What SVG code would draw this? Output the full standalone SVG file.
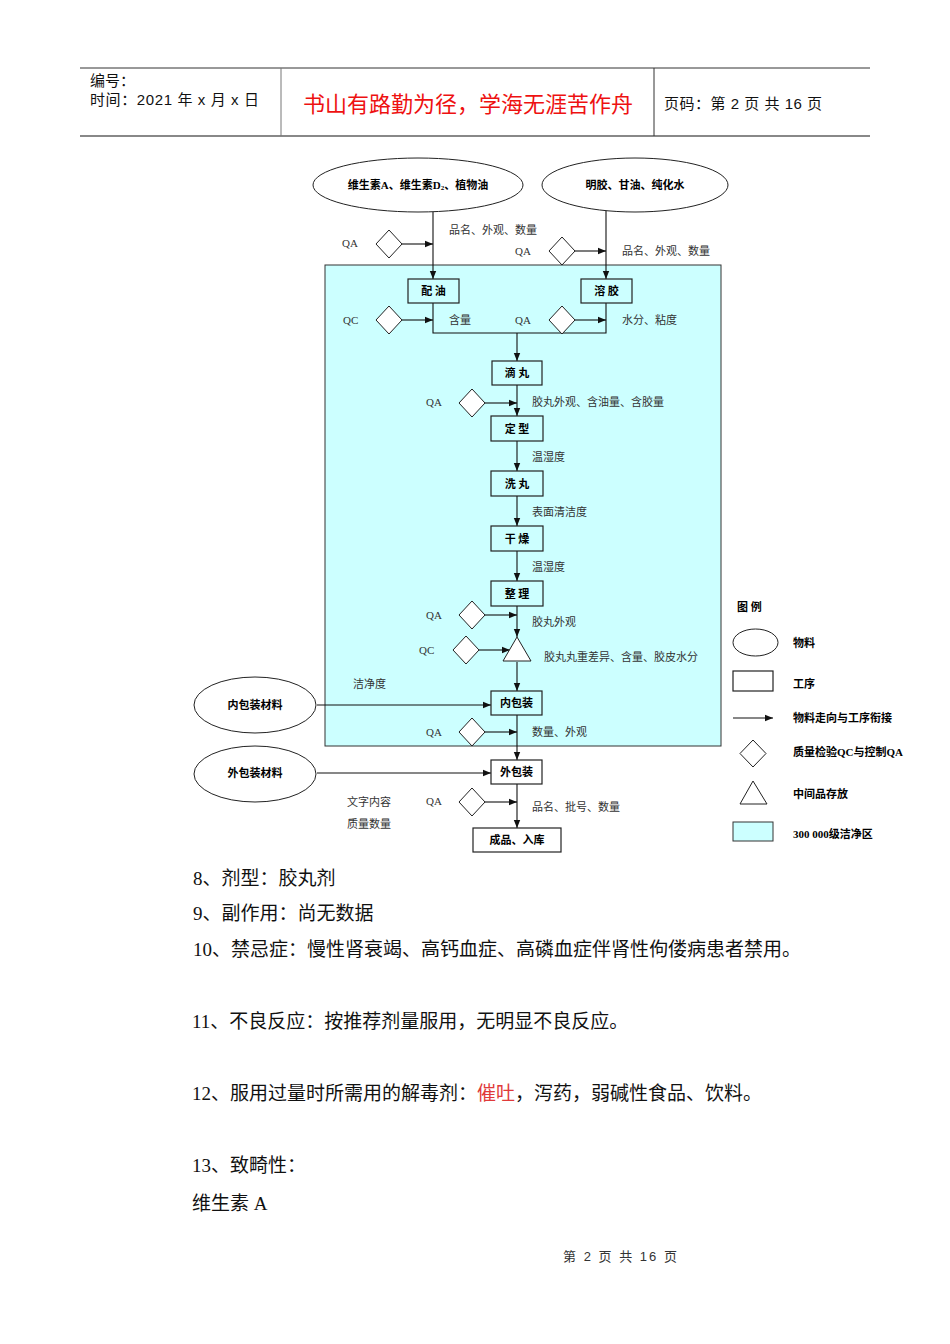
<svg xmlns="http://www.w3.org/2000/svg" width="950" height="1344" viewBox="0 0 950 1344">
<style>
.hd{font-family:"Liberation Sans","Noto Sans CJK SC",sans-serif;font-size:15px;fill:#111}
.ttl{font-family:"Liberation Sans","Noto Sans CJK SC",sans-serif;font-size:22px;fill:#ee1111}
.nl{font-family:"Liberation Serif","Noto Sans CJK SC",serif;font-size:11px;font-weight:bold;fill:#000;text-anchor:middle;dominant-baseline:central}
.an{font-family:"Liberation Serif","Noto Sans CJK SC",serif;font-size:11px;fill:#333;dominant-baseline:central}
.lg{font-family:"Liberation Serif","Noto Sans CJK SC",serif;font-size:11px;font-weight:bold;fill:#000;dominant-baseline:central}
.bd{font-family:"Liberation Serif","Noto Sans CJK SC",serif;font-size:19px;fill:#111;dominant-baseline:central}
.ft{font-family:"Liberation Sans","Noto Sans CJK SC",sans-serif;font-size:13px;fill:#333;dominant-baseline:central}
.box{fill:none;stroke:#222;stroke-width:1.2}
.wbox{fill:#fff;stroke:#222;stroke-width:1.2}
.el{fill:#fff;stroke:#222;stroke-width:1}
.dm{fill:#fff;stroke:#222;stroke-width:1}
.cn{fill:none;stroke:#111;stroke-width:1.1}
.ar{fill:none;stroke:#111;stroke-width:1.1;marker-end:url(#ah)}
</style>
<defs>
<marker id="ah" viewBox="0 0 10 10" refX="10" refY="5" markerWidth="8" markerHeight="8" markerUnits="userSpaceOnUse" orient="auto">
<path d="M0,1 L10,5 L0,9 z" fill="#111"/>
</marker>
</defs>

<g id="header">
<line x1="80" y1="68" x2="870" y2="68" stroke="#333" stroke-width="1"/>
<line x1="80" y1="136" x2="870" y2="136" stroke="#888" stroke-width="2"/>
<line x1="281" y1="68" x2="281" y2="136" stroke="#777" stroke-width="1"/>
<line x1="654" y1="68" x2="654" y2="136" stroke="#333" stroke-width="1"/>
<text class="hd" x="90" y="86">编号：</text>
<text class="hd" x="90" y="105" textLength="169">时间：2021 年 x 月 x 日</text>
<text class="ttl" x="468" y="112" text-anchor="middle">书山有路勤为径，学海无涯苦作舟</text>
<text class="hd" x="664" y="109" textLength="158">页码：第 2 页  共 16 页</text>
</g>

<g id="clean-zone">
<rect x="325" y="265" width="396" height="481" fill="#ccffff" stroke="#333" stroke-width="1"/>
</g>

<g id="connectors">
<line class="ar" x1="433" y1="212" x2="433" y2="279"/>
<line class="ar" x1="606" y1="211" x2="606" y2="279"/>
<line class="ar" x1="402" y1="244" x2="433" y2="244"/>
<line class="ar" x1="575" y1="251" x2="606" y2="251"/>
<polyline class="cn" points="433,303 433,333 606,333 606,303"/>
<line class="ar" x1="402" y1="320" x2="433" y2="320"/>
<line class="ar" x1="575" y1="320" x2="606" y2="320"/>
<line class="ar" x1="517" y1="333" x2="517" y2="361"/>
<line class="ar" x1="517" y1="385" x2="517" y2="416"/>
<line class="ar" x1="485" y1="403" x2="517" y2="403"/>
<line class="ar" x1="517" y1="441" x2="517" y2="471"/>
<line class="ar" x1="517" y1="496" x2="517" y2="526"/>
<line class="ar" x1="517" y1="551" x2="517" y2="581"/>
<line class="ar" x1="517" y1="606" x2="517" y2="637"/>
<line class="ar" x1="485" y1="615" x2="517" y2="615"/>
<line class="ar" x1="479" y1="650" x2="510" y2="650"/>
<line class="ar" x1="517" y1="662" x2="517" y2="691"/>
<line class="ar" x1="317" y1="705" x2="491" y2="705"/>
<line class="ar" x1="517" y1="715" x2="517" y2="760"/>
<line class="ar" x1="485" y1="732" x2="517" y2="732"/>
<line class="ar" x1="317" y1="773" x2="491" y2="773"/>
<line class="ar" x1="517" y1="784" x2="517" y2="828"/>
<line class="ar" x1="485" y1="802" x2="517" y2="802"/>
</g>

<g id="mat1"><ellipse class="el" cx="418" cy="185" rx="105" ry="27"/>
<text class="nl" x="418" y="185">维生素A、维生素D<tspan font-size="7" dy="3">2</tspan><tspan dy="-3">、植物油</tspan></text></g>
<g id="mat2"><ellipse class="el" cx="635" cy="185" rx="93" ry="27"/>
<text class="nl" x="635" y="185">明胶、甘油、纯化水</text></g>

<g id="qa1"><path class="dm" d="M389,230 L402,244 L389,258 L376,244 z"/>
<text class="an" x="342" y="243">QA</text>
<text class="an" x="449" y="230">品名、外观、数量</text></g>
<g id="qa2"><path class="dm" d="M562,237 L575,251 L562,265 L549,251 z"/>
<text class="an" x="515" y="251">QA</text>
<text class="an" x="622" y="251">品名、外观、数量</text></g>

<g id="p-peiyou"><rect class="box" x="408" y="279" width="51" height="24"/><text class="nl" x="433.5" y="291">配 油</text></g>
<g id="p-rongjiao"><rect class="box" x="581" y="279" width="51" height="24"/><text class="nl" x="606.5" y="291">溶 胶</text></g>

<g id="qc1"><path class="dm" d="M389,306 L402,320 L389,334 L376,320 z"/>
<text class="an" x="343" y="320">QC</text>
<text class="an" x="449" y="320">含量</text></g>
<g id="qa3"><path class="dm" d="M562,306 L575,320 L562,334 L549,320 z"/>
<text class="an" x="515" y="320">QA</text>
<text class="an" x="622" y="320">水分、粘度</text></g>

<g id="p-diwan"><rect class="box" x="492" y="361" width="50" height="24"/><text class="nl" x="517" y="373">滴 丸</text></g>
<g id="qa4"><path class="dm" d="M472,389 L485,403 L472,417 L459,403 z"/>
<text class="an" x="426" y="402">QA</text>
<text class="an" x="532" y="402">胶丸外观、含油量、含胶量</text></g>

<g id="p-dingxing"><rect class="box" x="491" y="416" width="52" height="25"/><text class="nl" x="517" y="428.5">定 型</text></g>
<text class="an" x="532" y="457">温湿度</text>
<g id="p-xiwan"><rect class="box" x="491" y="471" width="52" height="25"/><text class="nl" x="517" y="483.5">洗 丸</text></g>
<text class="an" x="532" y="512">表面清洁度</text>
<g id="p-ganzao"><rect class="box" x="491" y="526" width="52" height="25"/><text class="nl" x="517" y="538.5">干 燥</text></g>
<text class="an" x="532" y="567">温湿度</text>
<g id="p-zhengli"><rect class="box" x="491" y="581" width="52" height="25"/><text class="nl" x="517" y="593.5">整 理</text></g>

<g id="qa5"><path class="dm" d="M472,601 L485,615 L472,629 L459,615 z"/>
<text class="an" x="426" y="615">QA</text>
<text class="an" x="532" y="622">胶丸外观</text></g>
<g id="qc2"><path class="dm" d="M466,636 L479,650 L466,664 L453,650 z"/>
<text class="an" x="419" y="650">QC</text></g>
<g id="store"><path class="dm" d="M517,637 L531,661 L503,661 z"/>
<text class="an" x="544" y="657">胶丸丸重差异、含量、胶皮水分</text></g>

<g id="mat3"><ellipse class="el" cx="255" cy="705" rx="61" ry="28"/><text class="nl" x="255" y="705">内包装材料</text></g>
<text class="an" x="353" y="684">洁净度</text>
<g id="p-neibaozhuang"><rect class="box" x="491" y="691" width="51" height="24"/><text class="nl" x="516.5" y="703">内包装</text></g>
<g id="qa6"><path class="dm" d="M472,718 L485,732 L472,746 L459,732 z"/>
<text class="an" x="426" y="732">QA</text>
<text class="an" x="532" y="732">数量、外观</text></g>

<g id="mat4"><ellipse class="el" cx="255" cy="774" rx="61" ry="28"/><text class="nl" x="255" y="773">外包装材料</text></g>
<g id="p-waibaozhuang"><rect class="wbox" x="491" y="760" width="51" height="24"/><text class="nl" x="516.5" y="772">外包装</text></g>
<g id="qa7"><path class="dm" d="M472,788 L485,802 L472,816 L459,802 z"/>
<text class="an" x="426" y="801">QA</text>
<text class="an" x="347" y="802">文字内容</text>
<text class="an" x="347" y="824">质量数量</text>
<text class="an" x="532" y="807">品名、批号、数量</text></g>
<g id="p-chengpin"><rect class="wbox" x="473" y="828" width="88" height="24"/><text class="nl" x="517" y="840">成品、入库</text></g>

<g id="legend">
<text class="lg" x="737" y="607">图 例</text>
<ellipse class="el" cx="755.5" cy="642.5" rx="22.5" ry="13.5"/>
<text class="lg" x="793" y="643">物料</text>
<rect class="wbox" x="733" y="671" width="40" height="20"/>
<text class="lg" x="793" y="684">工序</text>
<line class="ar" x1="733" y1="718" x2="773" y2="718"/>
<text class="lg" x="793" y="718">物料走向与工序衔接</text>
<path class="dm" d="M753,740 L766,753.5 L753,767 L740,753.5 z"/>
<text class="lg" x="793" y="752">质量检验QC与控制QA</text>
<path class="dm" d="M753,781 L767,804 L740,804 z"/>
<text class="lg" x="793" y="794">中间品存放</text>
<rect x="733" y="822" width="40" height="19" fill="#ccffff" stroke="#333" stroke-width="1"/>
<text class="lg" x="793" y="834">300 000级洁净区</text>
</g>

<g id="body">
<text class="bd" x="193" y="878">8、剂型：胶丸剂</text>
<text class="bd" x="193" y="913">9、副作用：尚无数据</text>
<text class="bd" x="193" y="949">10、禁忌症：慢性肾衰竭、高钙血症、高磷血症伴肾性佝偻病患者禁用。</text>
<text class="bd" x="192" y="1021">11、不良反应：按推荐剂量服用，无明显不良反应。</text>
<text class="bd" x="192" y="1093">12、服用过量时所需用的解毒剂：<tspan fill="#e03a3a">催吐</tspan>，泻药，弱碱性食品、饮料。</text>
<text class="bd" x="192" y="1165">13、致畸性：</text>
<text class="bd" x="192" y="1203">维生素 A</text>
<text class="ft" x="563" y="1256" textLength="114">第 2 页 共 16 页</text>
</g>
</svg>
